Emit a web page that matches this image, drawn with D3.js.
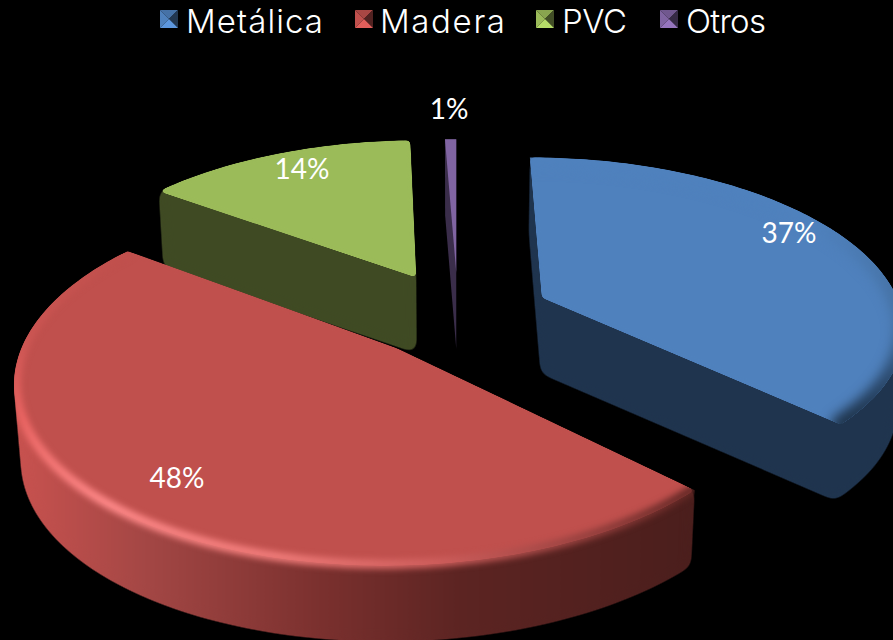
<!DOCTYPE html>
<html>
<head>
<meta charset="utf-8">
<script src="https://cdnjs.cloudflare.com/ajax/libs/d3/7.8.5/d3.min.js"></script>
<style>
  html, body { margin: 0; background: #000; }
  svg { display: block; }
</style>
</head>
<body>
<div id="chart"></div>
<script>
// values (labels are the rounded ones)
const categories = ['Metálica', 'Madera', 'PVC', 'Otros'];
const values = [37.2, 47.9, 14.3, 0.6];
const colors = ['#4f81bd', '#c0504d', '#9bbb59', '#8064a2'];
const wallColors = ['#1f344e', '#7a302e', '#3f4a23', '#3a2d4a'];

const width = 893, height = 640;

// legend layout
const legendKeyX = [160, 355, 536, 660];
const legendTextX = [186, 380, 562, 686];
const legendTextW = [137, 125, 65, 80];

// label anchor per slice
const labelX = [789, 177, 302, 449];
const labelY = [243, 488, 179, 119];

// pie plane seen in perspective, camera above and in front
const radius = 355, explode = 91;
const radiusFactor = [1, 1.005, 1.02, 1];
const centerA = 2, centerB = 37;
const vanishX = 456, vanishY = -710, camH = 1007, camD = 2200;
const wallDepth = 76, wallShrink = 0.985;

function project(a, b) {
    const s = camD / (camD - b);
    return [vanishX + a * s, vanishY + camH * s];
}
function lower(p) {
    return [vanishX + (p[0] - vanishX) * wallShrink, p[1] + wallDepth];
}

const arcs = d3.pie().sort(null).startAngle(0).endAngle(2 * Math.PI)(values);

const slices = arcs.map((d, i) => {
    const mid = (d.startAngle + d.endAngle) / 2;
    const a0 = centerA + explode * Math.sin(mid);
    const b0 = centerB - explode * Math.cos(mid);
    const r = radius * radiusFactor[i];
    const at = (t, q) => project(a0 + q * Math.sin(t), b0 - q * Math.cos(t));
    const n = Math.max(4, Math.round((d.endAngle - d.startAngle) * 60));
    const angles = d3.range(n + 1).map(k => d.startAngle + (d.endAngle - d.startAngle) * k / n);
    const rimPts = angles.map(t => at(t, r));
    const top = [at(0, 0)].concat(rimPts);
    return { i, d, r, b0, at, angles, top, hull: d3.polygonHull(top.concat(top.map(lower))) };
});

const line = d3.line().curve(d3.curveLinearClosed);
const deg = t => t * 180 / Math.PI;

const svg = d3.select('#chart').append('svg')
    .attr('width', width)
    .attr('height', height)
    .attr('viewBox', `0 0 ${width} ${height}`);

svg.append('rect').attr('width', width).attr('height', height).attr('fill', '#000');

const defs = svg.append('defs');

function roundFilter(id, dev) {
    const f = defs.append('filter')
        .attr('id', id)
        .attr('filterUnits', 'userSpaceOnUse')
        .attr('x', -50).attr('y', -50).attr('width', width + 100).attr('height', height + 100)
        .attr('color-interpolation-filters', 'sRGB');
    f.append('feGaussianBlur').attr('stdDeviation', dev);
    f.append('feComponentTransfer').append('feFuncA')
        .attr('type', 'linear').attr('slope', 10).attr('intercept', -4.5);
}
roundFilter('round-big', 6);
roundFilter('round-small', 2.2);

function blurFilter(id, dev) {
    defs.append('filter')
        .attr('id', id)
        .attr('filterUnits', 'userSpaceOnUse')
        .attr('x', -50).attr('y', -50).attr('width', width + 100).attr('height', height + 100)
        .attr('color-interpolation-filters', 'sRGB')
        .append('feGaussianBlur').attr('stdDeviation', dev);
}
blurFilter('soft', 3);
blurFilter('softer', 6);

// red outer wall, lit from the left
const wallGrad = defs.append('linearGradient')
    .attr('id', 'wall-red')
    .attr('gradientUnits', 'userSpaceOnUse')
    .attr('x1', 14).attr('x2', 700).attr('y1', 0).attr('y2', 0);
[[0, '#c9524f'], [0.2, '#a24644'], [0.45, '#7a302e'], [0.65, '#5c2422'], [1, '#4a1e1c']].forEach(s => {
    wallGrad.append('stop').attr('offset', s[0]).attr('stop-color', s[1]);
});

slices.forEach(s => {
    defs.append('clipPath').attr('id', 'clip-' + s.i)
        .append('path').attr('d', line(s.top));
    defs.append('clipPath').attr('id', 'clip-hull-' + s.i)
        .append('path').attr('d', line(s.hull));
});

// colour of the bevel along the rim, by angle in degrees
const redRim = d3.scaleLinear()
    .domain([133, 150, 175, 195, 222, 250, 275, 306])
    .range(['#5a2421', '#8a3a38', '#d0605e', '#f07c7a', '#ff8a8a', '#ec6664', '#cc5653', '#c0504d']);
const blueRim = d3.scaleLinear()
    .domain([0, 60, 100, 120, 133])
    .range(['#4f81bd', '#4f81bd', '#446f9f', '#2c4b6f', '#20364f']);

function rimSegments(g, s, r, scale, w) {
    const pts = s.angles.map(t => ({ t, p: s.at(t, r) }));
    g.selectAll('line')
        .data(pts.slice(1))
        .join('line')
        .attr('x1', (d, k) => pts[k].p[0])
        .attr('y1', (d, k) => pts[k].p[1])
        .attr('x2', d => d.p[0])
        .attr('y2', d => d.p[1])
        .attr('stroke', d => scale(deg(d.t)))
        .attr('stroke-width', w)
        .attr('stroke-linecap', 'round');
}

// back to front
const order = slices.slice().sort((p, q) => d3.ascending(p.b0, q.b0));

order.forEach(s => {
    const g = svg.append('g').attr('class', 'slice slice-' + s.i);
    const small = s.d.value < 2;

    g.append('path')
        .attr('d', line(s.hull))
        .attr('fill', s.i === 1 ? 'url(#wall-red)' : wallColors[s.i])
        .attr('filter', small ? null : 'url(#round-big)');

    g.append('path')
        .attr('d', line(s.top))
        .attr('fill', colors[s.i])
        .attr('filter', small ? null : 'url(#round-small)');

    if (s.i === 1) {
        const rim = g.append('g').attr('clip-path', 'url(#clip-hull-1)')
            .append('g').attr('filter', 'url(#soft)');
        rimSegments(rim, s, s.r - 2, redRim, 9);
    }
    if (s.i === 0) {
        const rim = g.append('g').attr('clip-path', 'url(#clip-0)')
            .append('g').attr('filter', 'url(#softer)');
        rimSegments(rim, s, s.r, blueRim, 20);
    }
});

// data labels
svg.append('g').selectAll('text')
    .data(values)
    .join('text')
    .attr('x', (d, i) => labelX[i])
    .attr('y', (d, i) => labelY[i])
    .attr('text-anchor', 'middle')
    .attr('fill', '#fff')
    .attr('font-family', 'Lato, sans-serif')
    .attr('font-size', 28)
    .text(d => d3.format('.0f')(d) + '%');

// legend
const legend = svg.append('g').selectAll('g')
    .data(categories)
    .join('g')
    .attr('transform', (d, i) => `translate(${legendKeyX[i]},10)`);

const k = 18;
const faces = [
    { pts: [[0, 0], [k, 0], [k / 2, k / 2]], f: c => d3.color(c).darker(0.35) },
    { pts: [[0, 0], [0, k], [k / 2, k / 2]], f: c => d3.color(c) },
    { pts: [[k, 0], [k, k], [k / 2, k / 2]], f: c => d3.color(c).darker(2.4) },
    { pts: [[0, k], [k, k], [k / 2, k / 2]], f: c => d3.color(c).brighter(0.45) }
];
faces.forEach(face => {
    legend.append('path')
        .attr('d', line(face.pts))
        .attr('fill', (d, i) => face.f(colors[i]));
});

svg.append('g').selectAll('text')
    .data(categories)
    .join('text')
    .attr('x', (d, i) => legendTextX[i])
    .attr('y', 33)
    .attr('fill', '#fff')
    .attr('font-family', 'Inter, sans-serif')
    .attr('font-weight', 300)
    .attr('font-size', 33)
    .attr('textLength', (d, i) => legendTextW[i])
    .attr('lengthAdjust', 'spacing')
    .text(d => d);
</script>
</body>
</html>
